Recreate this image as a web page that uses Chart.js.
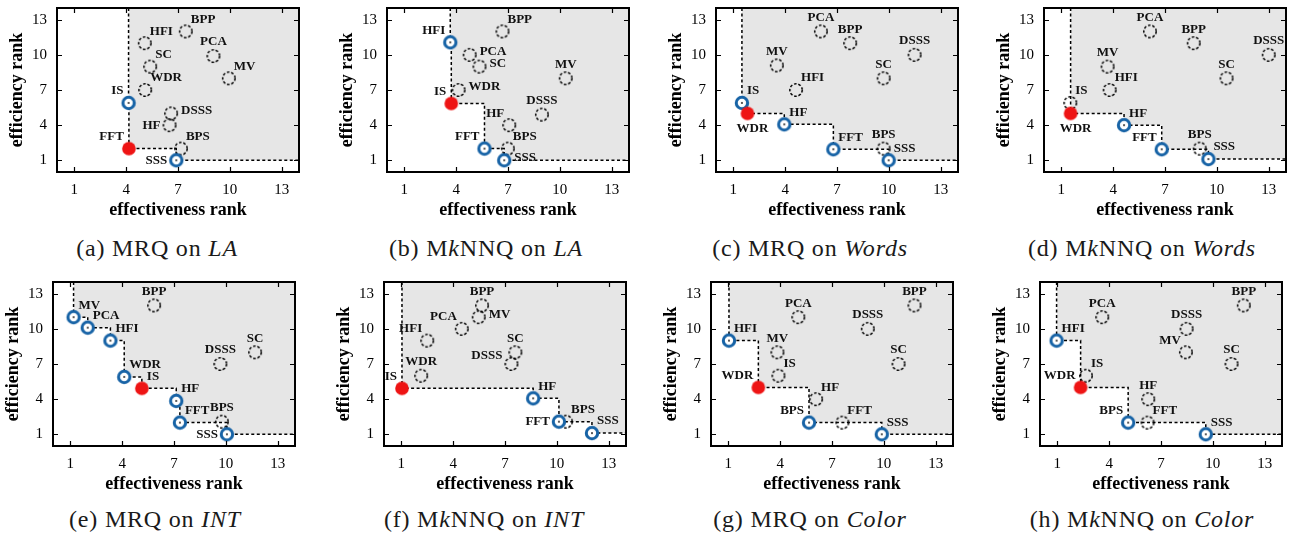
<!DOCTYPE html>
<html><head><meta charset="utf-8">
<script src="https://cdn.jsdelivr.net/npm/chart.js@4.4.1/dist/chart.umd.min.js"></script>
<style>
html,body{margin:0;padding:0;background:#fff;}
body{width:1294px;height:534px;position:relative;overflow:hidden;}
canvas.p{position:absolute;}
.cap{position:absolute;font-family:"Liberation Serif","Times New Roman",Times,"DejaVu Serif",serif;font-size:24px;letter-spacing:0.8px;color:#1a1a1a;white-space:nowrap;transform:translate(-50%,-50%);}
</style></head><body>
<script>
// ---------- DATA ----------
const methods = ['BPP','HFI','PCA','SC','MV','WDR','IS','DSSS','HF','BPS','FFT','SSS'];
const xTicks = [1,4,7,10,13];
const yTicks = [1,4,7,10,13];
const xTitle = 'effectiveness rank';
const yTitle = 'efficiency rank';

// (a) MRQ on LA
const laMrqEffectiveness = [7.45,5.08,9.05,5.39,9.94,5.10,4.14,6.60,6.51,7.17,4.16,6.90];
const laMrqEfficiency    = [12,11,9.9,9,8,7,5.9,5,4,2,2,1];
const laMrqSkyline = ['IS','FFT','SSS'];
const laMrqBest = 'FFT';
// (b) MkNNQ on LA
const laKnnEffectiveness = [6.68,3.66,4.78,5.35,10.34,4.14,3.72,8.96,7.07,6.99,5.64,6.78];
const laKnnEfficiency    = [12,11.07,10,9,8,7,5.85,4.9,4,2,2,1];
const laKnnSkyline = ['HFI','IS','FFT','SSS'];
const laKnnBest = 'IS';
// (c) MRQ on Words
const wordsMrqEffectiveness = [7.76,4.63,6.07,9.70,3.52,1.82,1.50,11.49,3.95,9.70,6.79,9.99];
const wordsMrqEfficiency    = [11,7,12,8,9.1,5,5.9,10,4.07,2,1.94,1];
const wordsMrqSkyline = ['IS','WDR','HF','FFT','SSS'];
const wordsMrqBest = 'WDR';
// (d) MkNNQ on Words
const wordsKnnEffectiveness = [8.66,3.80,6.13,10.56,3.68,1.54,1.52,13.0,4.63,9.01,6.81,9.51];
const wordsKnnEfficiency    = [11,7,12,8,9,5,5.9,10,4,2,1.94,1.1];
const wordsKnnSkyline = ['WDR','HF','FFT','SSS'];
const wordsKnnBest = 'WDR';
// (e) MRQ on INT
const intMrqEffectiveness = [5.85,3.32,2.01,11.69,1.19,4.12,5.14,9.68,7.13,9.77,7.34,10.06];
const intMrqEfficiency    = [12,9,10.1,8,11,5.9,4.92,7,3.85,2.08,2,1];
const intMrqSkyline = ['MV','PCA','HFI','WDR','IS','HF','FFT','SSS'];
const intMrqBest = 'IS';
// (f) MkNNQ on INT
const intKnnEffectiveness = [5.67,2.50,4.50,7.60,5.48,2.15,1.04,7.37,8.63,10.53,10.12,12.03];
const intKnnEfficiency    = [12,9,10,8,11,6,4.92,7,4.07,2.08,2.08,1.1];
const intKnnSkyline = ['IS','HF','FFT','SSS'];
const intKnnBest = 'IS';
// (g) MRQ on Color
const colorMrqEffectiveness = [11.77,1.04,5.05,10.85,3.84,2.74,3.90,9.07,6.08,5.67,7.60,9.88];
const colorMrqEfficiency    = [12,9,11,7,8,5,6,10,4,2,2,1];
const colorMrqSkyline = ['HFI','WDR','BPS','SSS'];
const colorMrqBest = 'WDR';
// (h) MkNNQ on Color
const colorKnnEffectiveness = [11.79,0.96,3.60,11.08,8.44,2.35,2.66,8.48,6.26,5.10,6.22,9.59];
const colorKnnEfficiency    = [12,9,11,7,8,5,6,10,4,2,2,1];
const colorKnnSkyline = ['HFI','WDR','BPS','SSS'];
const colorKnnBest = 'WDR';

// ---------- STYLE / LAYOUT ----------
const SERIF = '"Liberation Serif", "Times New Roman", Times, "DejaVu Serif", serif';
const BLUE = '#1763a6';
const RED = '#ee1414';
const GRAY = '#e6e6e6';
const LABEL_POS = {
  ne:{align:'left',dx:5,dy:-12}, nw:{align:'right',dx:-5,dy:-12},
  n:{align:'center',dx:0,dy:-14}, e:{align:'left',dx:10,dy:-3},
  w:{align:'right',dx:-9,dy:0}, wn:{align:'right',dx:-9,dy:-8},
  s:{align:'center',dx:5,dy:15}
};
const panels = [
  {eff:laMrqEffectiveness, effi:laMrqEfficiency, sky:laMrqSkyline, best:laMrqBest, L:57, T:8, cx:157, cy:248,
   pos:['ne','ne','n','ne','ne','ne','nw','e','w','ne','nw','w'], cap:'(a) MRQ on <i>LA</i>'},
  {eff:laKnnEffectiveness, effi:laKnnEfficiency, sky:laKnnSkyline, best:laKnnBest, L:387, T:8, cx:486, cy:248,
   pos:['ne','nw','e','e','n','e','nw','n','nw','ne','nw','e'], cap:'(b) M<i>k</i>NNQ on <i>LA</i>'},
  {eff:wordsMrqEffectiveness, effi:wordsMrqEfficiency, sky:wordsMrqSkyline, best:wordsMrqBest, L:716, T:8, cx:810, cy:248,
   pos:['n','ne','n','n','n','s','ne','n','ne','n','ne','ne'], cap:'(c) MRQ on <i>Words</i>'},
  {eff:wordsKnnEffectiveness, effi:wordsKnnEfficiency, sky:wordsKnnSkyline, best:wordsKnnBest, L:1044, T:8, cx:1142, cy:248,
   pos:['n','ne','n','n','n','s','ne','n','ne','n','nw','ne'], cap:'(d) M<i>k</i>NNQ on <i>Words</i>'},
  {eff:intMrqEffectiveness, effi:intMrqEfficiency, sky:intMrqSkyline, best:intMrqBest, L:53, T:282, cx:155, cy:519,
   pos:['n','ne','ne','n','ne','ne','ne','n','ne','n','ne','w'], cap:'(e) MRQ on <i>INT</i>'},
  {eff:intKnnEffectiveness, effi:intKnnEfficiency, sky:intKnnSkyline, best:intKnnBest, L:384, T:282, cx:484, cy:519,
   pos:['n','nw','nw','n','e','n','nw','wn','ne','ne','w','ne'], cap:'(f) M<i>k</i>NNQ on <i>INT</i>'},
  {eff:colorMrqEffectiveness, effi:colorMrqEfficiency, sky:colorMrqSkyline, best:colorMrqBest, L:711, T:282, cx:810, cy:519,
   pos:['n','ne','n','n','n','nw','ne','n','ne','nw','ne','ne'], cap:'(g) MRQ on <i>Color</i>'},
  {eff:colorKnnEffectiveness, effi:colorKnnEfficiency, sky:colorKnnSkyline, best:colorKnnBest, L:1040, T:282, cx:1142, cy:519,
   pos:['n','ne','n','n','nw','nw','ne','n','n','nw','ne','ne'], cap:'(h) M<i>k</i>NNQ on <i>Color</i>'}
];
const PLOT_W = 242, PLOT_H = 164, AX_W = 50, AX_H = 50, PAD_T = 10, PAD_R = 12;

// ---------- MARKERS ----------
function mk(draw){ const c=document.createElement('canvas'); c.width=20; c.height=20; draw(c.getContext('2d')); return c; }
const dashImg = mk(g=>{ g.setLineDash([2.6,1.8]); g.lineWidth=1.5; g.strokeStyle='#000'; g.beginPath(); g.arc(10,10,6.2,0,2*Math.PI); g.stroke(); });
const ringImg = mk(g=>{ g.beginPath(); g.arc(10,10,5.7,0,2*Math.PI); g.fillStyle='#fff'; g.fill(); g.lineWidth=3; g.strokeStyle=BLUE; g.stroke(); g.fillStyle='#000'; g.fillRect(9.2,9.2,1.6,1.6); });
const redImg = mk(g=>{ g.beginPath(); g.arc(10,10,6.8,0,2*Math.PI); g.fillStyle=RED; g.fill(); });

// ---------- PLUGINS ----------
const framePlugin = {
  id:'frame',
  afterDatasetsDraw(chart){
    const {ctx, chartArea:a, scales:{x, y}} = chart;
    ctx.save();
    ctx.strokeStyle='#000'; ctx.lineWidth=1.2; ctx.setLineDash([]);
    ctx.beginPath();
    xTicks.forEach(v=>{ const px=Math.round(x.getPixelForValue(v))+0.5; ctx.moveTo(px,a.bottom); ctx.lineTo(px,a.bottom-5); ctx.moveTo(px,a.top); ctx.lineTo(px,a.top+5); });
    yTicks.forEach(v=>{ const py=Math.round(y.getPixelForValue(v))+0.5; ctx.moveTo(a.left,py); ctx.lineTo(a.left+5,py); ctx.moveTo(a.right,py); ctx.lineTo(a.right-5,py); });
    ctx.stroke();
    ctx.lineWidth=2;
    ctx.strokeRect(a.left, a.top, a.right-a.left, a.bottom-a.top);
    ctx.restore();
  }
};
const labelPlugin = {
  id:'ptLabels',
  afterDatasetsDraw(chart){
    const ctx = chart.ctx; ctx.save();
    ctx.font = 'bold 13px ' + SERIF; ctx.fillStyle = '#111'; ctx.textBaseline = 'middle';
    chart.data.datasets.forEach((ds,i)=>{
      if (!ds.isMarker) return;
      chart.getDatasetMeta(i).data.forEach((el,j)=>{
        const d = ds.data[j]; const p = LABEL_POS[d.pos];
        ctx.textAlign = p.align; ctx.fillText(d.name, el.x + p.dx, el.y + p.dy);
      });
    });
    ctx.restore();
  }
};

// ---------- BUILD ----------
panels.forEach(P=>{
  const cv = document.createElement('canvas');
  cv.className='p';
  const W = AX_W + PLOT_W + PAD_R, H = PAD_T + PLOT_H + AX_H;
  cv.width=W; cv.height=H;
  cv.style.left=(P.L-AX_W)+'px'; cv.style.top=(P.T-PAD_T)+'px';
  cv.style.width=W+'px'; cv.style.height=H+'px';
  document.body.appendChild(cv);

  const pts = methods.map((m,i)=>({x:P.eff[i], y:P.effi[i], name:m, pos:P.pos[i]}));
  const skyPts = P.sky.map(m=>pts[methods.indexOf(m)]);
  const stepLine = [{x:skyPts[0].x, y:14}, ...skyPts.map(p=>({x:p.x,y:p.y})), {x:14, y:skyPts[skyPts.length-1].y}];
  const dominated = pts.filter(p=>!P.sky.includes(p.name));
  const ringPts = skyPts.filter(p=>p.name!==P.best);
  const bestPts = pts.filter(p=>p.name===P.best);

  new Chart(cv, {
    type:'scatter',
    data:{datasets:[
      {type:'line', data:stepLine, stepped:true, borderColor:'#000', borderWidth:1.5, borderDash:[3,2.5],
       pointRadius:0, fill:'end', backgroundColor:GRAY, order:4},
      {data:dominated, pointStyle:dashImg, pointRadius:6, isMarker:true, order:3},
      {data:ringPts, pointStyle:ringImg, pointRadius:6, isMarker:true, order:2},
      {data:bestPts, pointStyle:redImg, pointRadius:7, isMarker:true, order:1}
    ]},
    options:{
      responsive:false, animation:false, devicePixelRatio:1,
      layout:{padding:{left:0, right:PAD_R, top:PAD_T, bottom:0}},
      plugins:{legend:{display:false}, tooltip:{enabled:false}},
      scales:{
        x:{type:'linear', min:0, max:14,
          afterBuildTicks:s=>{ s.ticks = xTicks.map(v=>({value:v})); },
          afterFit:s=>{ s.height=AX_H; s.paddingLeft=0; s.paddingRight=0; },
          ticks:{font:{family:SERIF,size:15}, color:'#000', padding:9, autoSkip:false, maxRotation:0},
          grid:{display:false, drawTicks:false}, border:{display:false},
          title:{display:true, text:xTitle, color:'#000', font:{family:SERIF,size:18,weight:'bold'}, padding:{top:0,bottom:1}}},
        y:{type:'linear', min:0, max:14,
          afterBuildTicks:s=>{ s.ticks = yTicks.map(v=>({value:v})); },
          afterFit:s=>{ s.width=AX_W; s.paddingTop=0; s.paddingBottom=0; },
          ticks:{font:{family:SERIF,size:15}, color:'#000', padding:10, autoSkip:false},
          grid:{display:false, drawTicks:false}, border:{display:false},
          title:{display:true, text:yTitle, color:'#000', font:{family:SERIF,size:18,weight:'bold'}, padding:{top:0,bottom:0}}}
      }
    },
    plugins:[framePlugin, labelPlugin]
  });

  const cap = document.createElement('div');
  cap.className='cap'; cap.innerHTML=P.cap;
  cap.style.left=P.cx+'px'; cap.style.top=P.cy+'px';
  document.body.appendChild(cap);
});
</script>
</body></html>
